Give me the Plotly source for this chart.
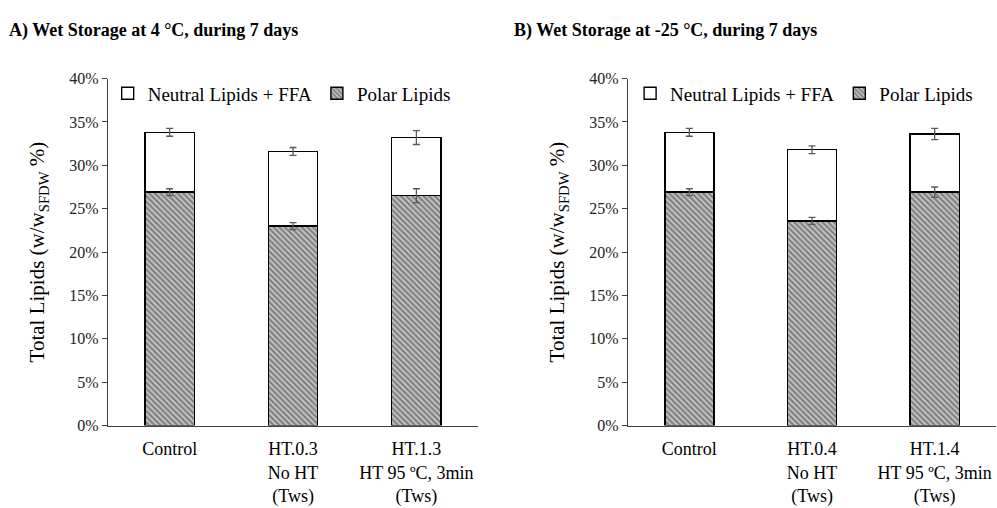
import plotly.graph_objects as go

# Panel A: wet storage at 4 °C
categories_a = ["Control", "HT.0.3<br>No HT<br>(Tws)", "HT.1.3<br>HT 95 ºC, 3min<br>(Tws)"]
total_a = [33.8, 31.6, 33.2]
total_err_a = [0.45, 0.45, 0.8]
polar_a = [26.9, 23.0, 26.5]
polar_err_a = [0.4, 0.4, 0.8]

# Panel B: wet storage at -25 °C
categories_b = ["Control", "HT.0.4<br>No HT<br>(Tws)", "HT.1.4<br>HT 95 ºC, 3min<br>(Tws)"]
total_b = [33.8, 31.8, 33.6]
total_err_b = [0.45, 0.45, 0.65]
polar_b = [26.9, 23.6, 26.9]
polar_err_b = [0.4, 0.4, 0.6]

y_ticks = [0, 5, 10, 15, 20, 25, 30, 35, 40]
y_ticklabels = ["0%", "5%", "10%", "15%", "20%", "25%", "30%", "35%", "40%"]

FONT = "Liberation Serif"
ERR_COLOR = "#5a5a5a"

fig = go.Figure()


def add_panel(cats, polar, polar_err, total, total_err, xa, ya, legend_name):
    neutral = [t - p for t, p in zip(total, polar)]
    # stacked bars: polar lipids at the bottom, neutral lipids + FFA on top
    fig.add_trace(go.Bar(
        x=cats, y=polar, name="Polar Lipids", xaxis=xa, yaxis=ya,
        legend=legend_name, legendrank=2,
        marker=dict(color="#c4c4c4", line=dict(color="#000000", width=1.4),
                    pattern=dict(shape="\\", fgcolor="#333333", bgcolor="#c4c4c4",
                                 size=4, solidity=0.5)),
    ))
    fig.add_trace(go.Bar(
        x=cats, y=neutral, name="Neutral Lipids + FFA", xaxis=xa, yaxis=ya,
        legend=legend_name, legendrank=1,
        marker=dict(color="#ffffff", line=dict(color="#000000", width=1.4)),
    ))
    # error bars drawn above the bars so both caps stay visible
    for vals, errs in ((polar, polar_err), (total, total_err)):
        fig.add_trace(go.Scatter(
            x=cats, y=vals, mode="markers", xaxis=xa, yaxis=ya, showlegend=False,
            marker=dict(size=1, opacity=0), hoverinfo="skip",
            error_y=dict(type="data", array=errs, color=ERR_COLOR, thickness=1.3, width=3.5),
        ))


add_panel(categories_a, polar_a, polar_err_a, total_a, total_err_a, "x", "y", "legend")
add_panel(categories_b, polar_b, polar_err_b, total_b, total_err_b, "x2", "y2", "legend2")

y_domain = [0.1496, 0.8563]
xaxis_common = dict(showline=True, linecolor="#404040", linewidth=1.3, ticks="",
                    ticklabelstandoff=7,
                    tickfont=dict(family=FONT, size=18, color="#000000"), showgrid=False,
                    zeroline=False)
yaxis_common = dict(range=[0, 40], tickvals=y_ticks, ticktext=y_ticklabels,
                    showline=True, linecolor="#404040", linewidth=1.3, ticks="outside",
                    ticklen=5, tickcolor="#404040", showgrid=False, zeroline=False,
                    tickfont=dict(family=FONT, size=16, color="#222222"),
                    title=dict(text="Total Lipids (w/w<sub>SFDW</sub> %)",
                               font=dict(family=FONT, size=21, color="#000000"), standoff=18))

legend_common = dict(orientation="h", bgcolor="rgba(0,0,0,0)", traceorder="normal",
                     font=dict(family=FONT, size=19, color="#000000"),
                     xanchor="left", yanchor="middle", itemwidth=30,
                     tracegroupgap=0)

fig.update_layout(
    width=997, height=508,
    margin=dict(l=0, r=0, t=0, b=0),
    paper_bgcolor="#ffffff", plot_bgcolor="#ffffff",
    barmode="stack", bargap=0.6,
    showlegend=True,
    xaxis=dict(domain=[0.1083, 0.4795], anchor="y", **xaxis_common),
    yaxis=dict(domain=y_domain, anchor="x", **yaxis_common),
    xaxis2=dict(domain=[0.6299, 0.999], anchor="y2", **xaxis_common),
    yaxis2=dict(domain=y_domain, anchor="x2", **yaxis_common),
    legend=dict(x=0.108, y=0.826, **legend_common),
    legend2=dict(x=0.632, y=0.826, **legend_common),
    annotations=[
        dict(text="<b>A) Wet Storage at 4 °C, during 7 days</b>", xref="paper", yref="paper",
             x=0.007, y=0.955, xanchor="left", yanchor="middle", showarrow=False,
             font=dict(family=FONT, size=18, color="#000000")),
        dict(text="<b>B) Wet Storage at -25 °C, during 7 days</b>", xref="paper", yref="paper",
             x=0.514, y=0.955, xanchor="left", yanchor="middle", showarrow=False,
             font=dict(family=FONT, size=18, color="#000000")),
    ],
)

fig.write_html("out.html")
